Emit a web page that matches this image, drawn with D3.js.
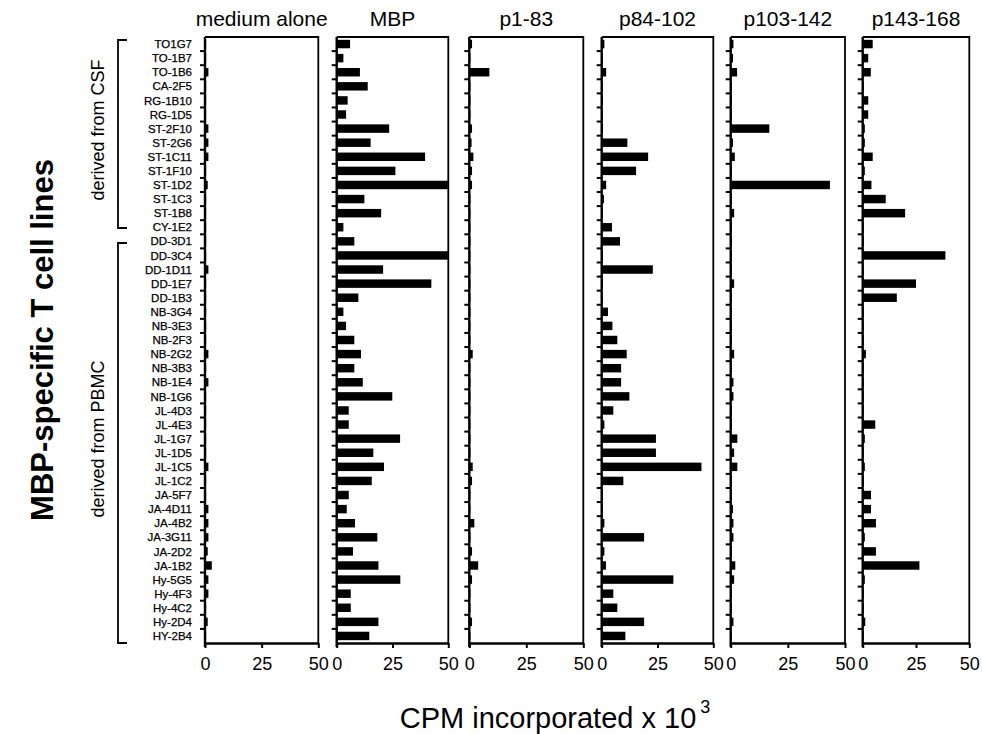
<!DOCTYPE html>
<html>
<head>
<meta charset="utf-8">
<script src="https://cdn.jsdelivr.net/npm/d3@7"></script>
<style>
  body { margin: 0; background: #fff; }
  svg { display: block; }
  text { fill: #000; }
</style>
</head>
<body>
<svg width="982" height="734"></svg>
<script>
// cell lines, top to bottom
var cellLines = ["TO1G7", "TO-1B7", "TO-1B6", "CA-2F5", "RG-1B10", "RG-1D5", "ST-2F10", "ST-2G6",
  "ST-1C11", "ST-1F10", "ST-1D2", "ST-1C3", "ST-1B8", "CY-1E2", "DD-3D1", "DD-3C4", "DD-1D11",
  "DD-1E7", "DD-1B3", "NB-3G4", "NB-3E3", "NB-2F3", "NB-2G2", "NB-3B3", "NB-1E4", "NB-1G6",
  "JL-4D3", "JL-4E3", "JL-1G7", "JL-1D5", "JL-1C5", "JL-1C2", "JA-5F7", "JA-4D11", "JA-4B2",
  "JA-3G11", "JA-2D2", "JA-1B2", "Hy-5G5", "Hy-4F3", "Hy-4C2", "Hy-2D4", "HY-2B4"];

var antigens = ["medium alone", "MBP", "p1-83", "p84-102", "p103-142", "p143-168"];

// CPM x 10^3
var medium = [0.5, 0.5, 1.5, 0.5, 0.5, 0.5, 1.5, 1.5, 1.5, 0.5, 1.2, 0.5, 0.5, 0.5, 0.5, 0.5, 1.5,
  0.5, 0.5, 0.5, 0.5, 0.5, 1.5, 0.5, 1.5, 0.5, 0.5, 0.5, 0.5, 0.5, 1.5, 0.5, 0.5, 1.5, 1.5,
  1.5, 1.2, 3.0, 1.5, 1.5, 0.5, 1.2, 0.5];
var mbp = [6.0, 3.0, 10.4, 13.9, 4.9, 4.2, 23.5, 15.2, 39.6, 26.3, 49.8, 12.4, 19.9, 3.0, 7.9, 49.8, 20.8,
  42.4, 9.7, 3.0, 4.2, 7.9, 10.9, 7.9, 11.7, 24.9, 5.4, 5.4, 28.4, 16.4, 21.2, 15.7, 5.4, 4.5, 8.2,
  18.2, 7.3, 18.7, 28.5, 6.3, 6.3, 18.7, 14.6];
var p1_83 = [1.2, 0.5, 8.8, 0.5, 0.5, 0.5, 1.2, 1.0, 1.8, 1.2, 1.2, 0.5, 0.5, 0.5, 0.5, 0.5, 0.5,
  0.5, 0.5, 0.5, 0.5, 0.5, 1.5, 0.5, 0.5, 0.5, 0.5, 0.5, 0.5, 0.5, 1.5, 1.2, 0.5, 0.5, 2.2,
  0.5, 1.2, 3.9, 1.2, 0.5, 0.5, 1.2, 0.5];
var p84_102 = [1.2, 0.5, 2.0, 0.5, 0.5, 0.5, 0.5, 11.5, 20.8, 15.4, 2.0, 1.0, 0.5, 4.6, 8.2, 0.5, 22.9,
  0.5, 0.5, 2.8, 4.8, 7.0, 11.2, 8.7, 8.7, 12.4, 5.2, 1.2, 24.3, 24.3, 44.7, 9.7, 0.5, 0.5, 1.2,
  19.0, 1.2, 1.9, 32.1, 5.2, 7.0, 19.0, 10.6];
var p103_142 = [1.2, 1.0, 2.8, 0.5, 0.5, 0.5, 16.9, 1.0, 1.8, 0.5, 43.4, 0.5, 1.5, 0.5, 0.5, 0.5, 0.5,
  1.5, 0.5, 0.5, 0.5, 0.5, 1.5, 0.5, 1.2, 1.2, 0.5, 0.5, 2.9, 1.5, 2.9, 0.5, 0.5, 1.0, 1.2,
  1.2, 0.5, 2.0, 1.5, 0.5, 0.5, 1.2, 0.5];
var p143_168 = [4.7, 2.6, 3.8, 0.5, 2.6, 2.6, 1.0, 1.0, 4.7, 1.0, 4.1, 10.8, 19.9, 0.5, 0.5, 38.8, 0.5,
  25.0, 16.0, 0.5, 0.5, 0.5, 1.5, 0.5, 0.5, 0.5, 0.5, 5.9, 1.0, 0.5, 1.0, 0.5, 3.9, 3.9, 6.2,
  1.0, 6.2, 26.6, 1.0, 0.5, 0.5, 1.2, 0.5];

var xTicks = [0, 25, 50];

var series = [medium, mbp, p1_83, p84_102, p103_142, p143_168];

var svg = d3.select("svg");
var plotTop = 37, plotBottom = 643;
var panelX0 = [205, 336.7, 469.3, 601.7, 730.7, 862.7],
    panelX1 = [318.3, 448.3, 583.3, 713.3, 845, 969.3];
var font = "'Liberation Sans', Arial, sans-serif";

var y = d3.scaleBand()
    .domain(cellLines)
    .range([plotTop, plotBottom])
    .paddingInner(0.4)
    .paddingOuter(0.2);

// row labels
svg.append("g")
    .selectAll("text")
    .data(cellLines)
    .enter().append("text")
    .attr("x", 192)
    .attr("y", function(d) { return y(d) + y.bandwidth() / 2; })
    .attr("dy", "0.36em")
    .attr("text-anchor", "end")
    .style("font-family", font)
    .style("font-size", "11.5px")
    .style("stroke", "#000")
    .style("stroke-width", 0.25)
    .text(function(d) { return d; });

series.forEach(function(vals, i) {
  var x = d3.scaleLinear().domain([0, 50]).range([panelX0[i], panelX1[i]]);
  var g = svg.append("g").attr("class", "panel");

  g.selectAll(".bar")
      .data(vals)
      .enter().append("rect")
      .attr("class", "bar")
      .attr("x", x(0))
      .attr("y", function(d, j) { return y(cellLines[j]); })
      .attr("width", function(d) { return x(d) - x(0); })
      .attr("height", y.bandwidth())
      .style("fill", "#000");

  // frame: top and right
  g.append("path")
      .attr("d", "M" + x(0) + "," + plotTop + "H" + x(50) + "V" + plotBottom)
      .style("fill", "none")
      .style("stroke", "#000")
      .style("stroke-width", 1.8);

  // left axis with ticks between rows
  g.append("line")
      .attr("x1", x(0)).attr("x2", x(0))
      .attr("y1", plotTop).attr("y2", plotBottom + 4)
      .style("stroke", "#000").style("stroke-width", 2.4);
  g.selectAll(".ytick")
      .data(d3.range(1, cellLines.length))
      .enter().append("line")
      .attr("class", "ytick")
      .attr("x1", x(0) - 5).attr("x2", x(0))
      .attr("y1", function(k) { return plotTop + k * y.step(); })
      .attr("y2", function(k) { return plotTop + k * y.step(); })
      .style("stroke", "#000").style("stroke-width", 2);

  var ax = g.append("g")
      .attr("transform", "translate(0," + plotBottom + ")")
      .call(d3.axisBottom(x).tickValues(xTicks).tickSizeInner(5).tickSizeOuter(0).tickPadding(9));
  ax.select(".domain").style("stroke-width", 2.6);
  ax.selectAll(".tick line").style("stroke-width", 2);
  ax.selectAll(".tick text")
      .style("font-family", font)
      .style("font-size", "18px");

  svg.append("text")
      .attr("x", (x(0) + x(50)) / 2)
      .attr("y", 26)
      .attr("text-anchor", "middle")
      .style("font-family", font)
      .style("font-size", "21px")
      .text(antigens[i]);
});

// group brackets
var groups = [
  { name: "derived from CSF", y0: 40, y1: 228 },
  { name: "derived from PBMC", y0: 243, y1: 643 }
];
groups.forEach(function(gr) {
  svg.append("path")
      .attr("d", "M127," + gr.y0 + "H118V" + gr.y1 + "H127")
      .style("fill", "none").style("stroke", "#000").style("stroke-width", 1.8);
  svg.append("text")
      .attr("transform", "translate(104," + ((gr.y0 + gr.y1) / 2 - 4) + ") rotate(-90)")
      .attr("text-anchor", "middle")
      .style("font-family", font)
      .style("font-size", "18px")
      .text(gr.name);
});

svg.append("text")
    .attr("transform", "translate(53,340) rotate(-90)")
    .attr("text-anchor", "middle")
    .style("font-family", font)
    .style("font-weight", "bold")
    .style("font-size", "31px")
    .text("MBP-specific T cell lines");

var xl = svg.append("text")
    .attr("x", 555)
    .attr("y", 728)
    .attr("text-anchor", "middle")
    .style("font-family", font)
    .style("font-size", "29px");
xl.append("tspan").text("CPM incorporated x 10");
xl.append("tspan").attr("dy", -15).attr("dx", 4).style("font-size", "18px").text("3");
</script>
</body>
</html>
